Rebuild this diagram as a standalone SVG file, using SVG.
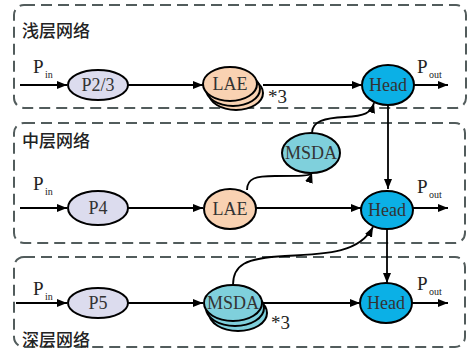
<svg xmlns="http://www.w3.org/2000/svg" width="474" height="353" viewBox="0 0 474 353">
<defs>
<marker id="ah" viewBox="0 0 10 8" refX="10" refY="4" markerWidth="10" markerHeight="8" markerUnits="userSpaceOnUse" orient="auto">
<path d="M0,0 L10,4 L0,8 Z" fill="#000"/>
</marker>
<style>
.box{fill:none;stroke:#525c5c;stroke-width:2;stroke-dasharray:11,6}
.title{font-family:"Noto Sans CJK SC","Noto Sans",sans-serif;font-size:17px;font-weight:500;fill:#222}
.n{stroke:#000;stroke-width:2}
.p{fill:#dcdcee}
.lae{fill:#f9d2b2}
.msda{fill:#7fd0dc}
.head{fill:#0bb0e6}
.lbl{font-family:"Liberation Serif","Times New Roman",serif;font-size:18px;fill:#333;text-anchor:middle}
.big{font-family:"Liberation Serif","Times New Roman",serif;font-size:19px;fill:#222}
.sub{font-family:"Liberation Serif","Times New Roman",serif;font-size:10px;fill:#222}
.c{fill:none;stroke:#000;stroke-width:1.8}
</style>
</defs>
<g id="boxes">
<rect class="box" x="14" y="5" width="452" height="103" rx="10"/>
<rect class="box" x="14" y="123" width="451" height="120" rx="10"/>
<rect class="box" x="14" y="257" width="451" height="90" rx="10"/>
<text class="title" x="22" y="37">浅层网络</text>
<text class="title" x="22" y="147">中层网络</text>
<text class="title" x="22" y="346">深层网络</text>
</g>
<g id="connectors">
<line class="c" x1="20" y1="85" x2="67" y2="85" marker-end="url(#ah)"/>
<line class="c" x1="128" y1="85" x2="203" y2="85" marker-end="url(#ah)"/>
<line class="c" x1="263" y1="85" x2="362" y2="85" marker-end="url(#ah)"/>
<line class="c" x1="414" y1="85" x2="448" y2="85" marker-end="url(#ah)"/>
<line class="c" x1="20" y1="208" x2="67" y2="208" marker-end="url(#ah)"/>
<line class="c" x1="128" y1="208" x2="203" y2="208" marker-end="url(#ah)"/>
<line class="c" x1="256" y1="208" x2="361" y2="208" marker-end="url(#ah)"/>
<line class="c" x1="413" y1="208" x2="448" y2="208" marker-end="url(#ah)"/>
<line class="c" x1="16" y1="303" x2="67" y2="303" marker-end="url(#ah)"/>
<line class="c" x1="128" y1="303" x2="203" y2="303" marker-end="url(#ah)"/>
<line class="c" x1="262" y1="303" x2="360" y2="303" marker-end="url(#ah)"/>
<line class="c" x1="412" y1="303" x2="448" y2="303" marker-end="url(#ah)"/>
<line class="c" x1="388" y1="105" x2="388" y2="189" marker-end="url(#ah)"/>
<line class="c" x1="387" y1="228" x2="387" y2="283" marker-end="url(#ah)"/>
<path class="c" d="M247,190 C247,178 256,176 275,176 C300,176 311,176 312,173" marker-end="url(#ah)"/>
<path class="c" d="M312,133 C312,121 325,118 345,117 C365,116 371,113 374,103" marker-end="url(#ah)"/>
<path class="c" d="M233,285 C233,265 245,258 285,256 C330,254 360,252 373,227" marker-end="url(#ah)"/>
</g>
<g id="labels">
<text class="big" x="33" y="73">P</text><text class="sub" x="45" y="78">in</text>
<text class="big" x="33" y="190">P</text><text class="sub" x="45" y="195">in</text>
<text class="big" x="33" y="295">P</text><text class="sub" x="45" y="300">in</text>
<text class="big" x="417" y="73">P</text><text class="sub" x="429" y="78">out</text>
<text class="big" x="417" y="193">P</text><text class="sub" x="429" y="198">out</text>
<text class="big" x="417" y="290">P</text><text class="sub" x="429" y="295">out</text>
<text class="big" x="268" y="103">*3</text>
<text class="big" x="271" y="329">*3</text>
</g>
<g id="p23"><ellipse class="n p" cx="98" cy="85" rx="30" ry="15"/><text class="lbl" x="98" y="91">P2/3</text></g>
<g id="lae1">
<ellipse class="n lae" cx="236" cy="93" rx="27" ry="17"/>
<ellipse class="n lae" cx="233" cy="89" rx="27" ry="17"/>
<ellipse class="n lae" cx="230" cy="84" rx="27" ry="17"/>
<text class="lbl" x="230" y="90">LAE</text></g>
<g id="head1"><ellipse class="n head" cx="388" cy="85" rx="26" ry="20"/><text class="lbl" x="388" y="91">Head</text></g>
<g id="msda2"><ellipse class="n msda" cx="311" cy="153" rx="29" ry="20"/><text class="lbl" x="311" y="159">MSDA</text></g>
<g id="p4"><ellipse class="n p" cx="98" cy="208" rx="30" ry="17"/><text class="lbl" x="98" y="214">P4</text></g>
<g id="lae2"><ellipse class="n lae" cx="230" cy="209" rx="26" ry="20"/><text class="lbl" x="230" y="215">LAE</text></g>
<g id="head2"><ellipse class="n head" cx="387" cy="210" rx="26" ry="19"/><text class="lbl" x="387" y="216">Head</text></g>
<g id="p5"><ellipse class="n p" cx="98" cy="303" rx="30" ry="15"/><text class="lbl" x="98" y="309">P5</text></g>
<g id="msda3">
<ellipse class="n msda" cx="238" cy="313" rx="29" ry="18"/>
<ellipse class="n msda" cx="235" cy="308" rx="29" ry="18"/>
<ellipse class="n msda" cx="233" cy="303" rx="29" ry="18"/>
<text class="lbl" x="233" y="309">MSDA</text></g>
<g id="head3"><ellipse class="n head" cx="386" cy="303" rx="26" ry="20"/><text class="lbl" x="386" y="309">Head</text></g>
</svg>
